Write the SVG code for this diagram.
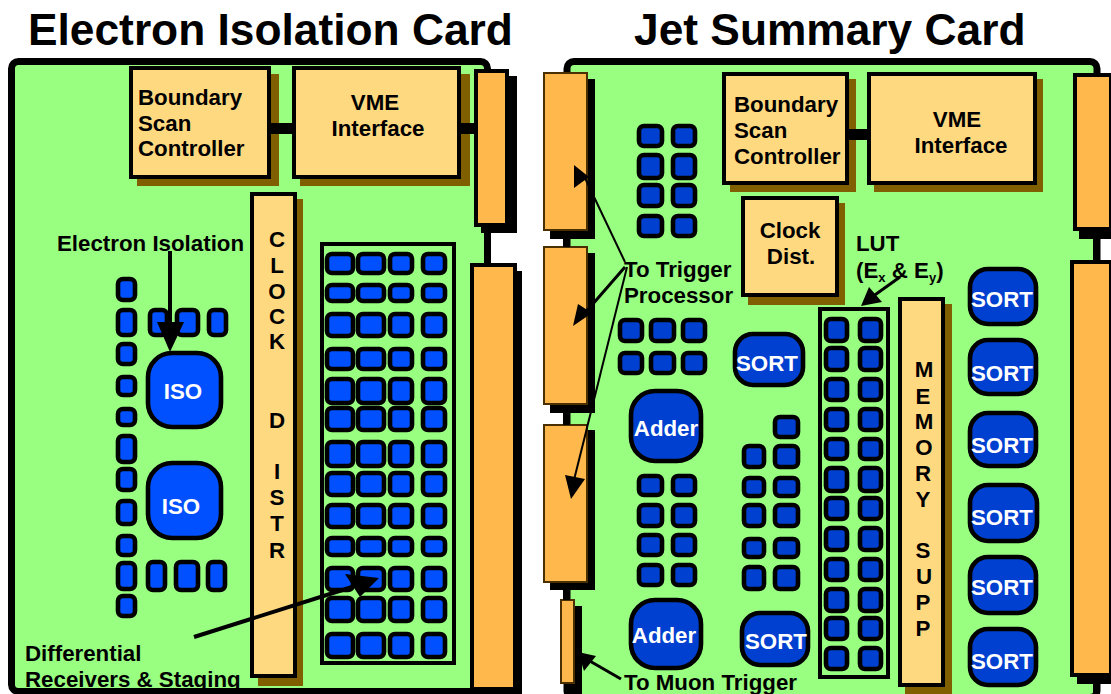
<svg xmlns="http://www.w3.org/2000/svg" width="1111" height="694" viewBox="0 0 1111 694">
<style>
text{font-family:"Liberation Sans",Arial,sans-serif;font-weight:700;font-size:22.3px;fill:#000}
.title{font-size:44.3px}
.w{fill:#fff}
.m{text-anchor:middle}
.card{fill:#99FF80;stroke:#000;stroke-width:7}
.box{fill:#FFD97F;stroke:#000;stroke-width:4}
.sh{fill:#7F5F00}
.bk{fill:#000}
.or{fill:#FFB84C;stroke:#000;stroke-width:4}
.ort{fill:#FFB84C;stroke:#4A3000;stroke-width:2}
.frame{fill:none;stroke:#000;stroke-width:4}
.c1 rect{fill:#0050FF;stroke:#000;stroke-width:4.6;rx:5px}
.c2 rect{fill:#0040D0;stroke:#000;stroke-width:4.6;rx:5px}
.c1 rect.big,.c2 rect.big{rx:24px}
.c2 rect.mid{rx:18px}
.bar{fill:#000}
.l4{stroke:#000;stroke-width:4;fill:none}
.l2{stroke:#000;stroke-width:2;fill:none}
</style>
<rect width="1111" height="694" fill="#fff"/>
<text class="title" x="28" y="45">Electron Isolation Card</text>
<text class="title" x="634" y="45">Jet Summary Card</text>

<g id="electron-card">
<rect class="card" x="11.5" y="61.5" width="476" height="630" rx="7"/>
</g>
<g id="e-boundary">
<rect class="sh" x="137" y="74" width="142" height="112"/>
<rect class="box" x="131" y="68" width="138" height="109"/>
<text x="138" y="105">Boundary</text><text x="138" y="131">Scan</text><text x="138" y="156">Controller</text>
</g>
<g id="e-vme">
<rect class="sh" x="300" y="74" width="170" height="112"/>
<rect class="box" x="294" y="68" width="165" height="109"/>
<text class="m" x="375" y="110">VME</text><text class="m" x="378" y="136">Interface</text>
</g>
<g id="e-conn-top">
<rect class="bk" x="481" y="76" width="36" height="157"/>
<rect class="or" x="476" y="71" width="31" height="154"/>
</g>
<g id="e-conn-bottom">
<rect class="bk" x="478" y="271" width="44" height="423"/>
<rect class="or" x="472" y="265" width="43" height="424"/>
</g>
<g id="e-clock">
<rect class="sh" x="258" y="199" width="45" height="487"/>
<rect class="box" x="252" y="194" width="43" height="482"/>
<g class="letters">
<text class="m" x="277" y="247">C</text><text class="m" x="277" y="273">L</text><text class="m" x="277" y="299">O</text><text class="m" x="277" y="324">C</text><text class="m" x="277" y="349">K</text>
<text class="m" x="277" y="428">D</text><text class="m" x="277" y="479">I</text><text class="m" x="277" y="505">S</text><text class="m" x="277" y="531">T</text><text class="m" x="277" y="558">R</text>
</g>
</g>
<rect class="frame" x="322" y="244" width="132" height="419"/>
<g id="e-grid" class="c1">
<rect x="327" y="254" width="26" height="19"/><rect x="358" y="254" width="26" height="19"/><rect x="390" y="254" width="22" height="19"/><rect x="423" y="254" width="22" height="19"/>
<rect x="327" y="285" width="26" height="16"/><rect x="358" y="285" width="26" height="16"/><rect x="390" y="285" width="22" height="16"/><rect x="423" y="285" width="22" height="16"/>
<rect x="327" y="314" width="26" height="22"/><rect x="358" y="314" width="26" height="22"/><rect x="390" y="314" width="22" height="22"/><rect x="423" y="314" width="22" height="22"/>
<rect x="327" y="349" width="26" height="20"/><rect x="358" y="349" width="26" height="20"/><rect x="390" y="349" width="22" height="20"/><rect x="423" y="349" width="22" height="20"/>
<rect x="327" y="379" width="26" height="24"/><rect x="358" y="379" width="26" height="24"/><rect x="390" y="379" width="22" height="24"/><rect x="423" y="379" width="22" height="24"/>
<rect x="327" y="408" width="26" height="22"/><rect x="358" y="408" width="26" height="22"/><rect x="390" y="408" width="22" height="22"/><rect x="423" y="408" width="22" height="22"/>
<rect x="327" y="442" width="26" height="24"/><rect x="358" y="442" width="26" height="24"/><rect x="390" y="442" width="22" height="24"/><rect x="423" y="442" width="22" height="24"/>
<rect x="327" y="473" width="26" height="22"/><rect x="358" y="473" width="26" height="22"/><rect x="390" y="473" width="22" height="22"/><rect x="423" y="473" width="22" height="22"/>
<rect x="327" y="505" width="26" height="22"/><rect x="358" y="505" width="26" height="22"/><rect x="390" y="505" width="22" height="22"/><rect x="423" y="505" width="22" height="22"/>
<rect x="327" y="538" width="26" height="17"/><rect x="358" y="538" width="26" height="17"/><rect x="390" y="538" width="22" height="17"/><rect x="423" y="538" width="22" height="17"/>
<rect x="327" y="568" width="26" height="22"/><rect x="358" y="568" width="26" height="22"/><rect x="390" y="568" width="22" height="22"/><rect x="423" y="568" width="22" height="22"/>
<rect x="327" y="598" width="26" height="23"/><rect x="358" y="598" width="26" height="23"/><rect x="390" y="598" width="22" height="23"/><rect x="423" y="598" width="22" height="23"/>
<rect x="327" y="634" width="26" height="23"/><rect x="358" y="634" width="26" height="23"/><rect x="390" y="634" width="22" height="23"/><rect x="423" y="634" width="22" height="23"/>
</g>
<g id="e-chips" class="c1">
<rect x="118" y="279" width="17" height="21"/><rect x="118" y="310" width="17" height="25"/><rect x="118" y="344" width="17" height="20"/><rect x="118" y="377" width="17" height="18"/><rect x="118" y="409" width="17" height="16"/><rect x="118" y="436" width="17" height="26"/><rect x="118" y="469" width="17" height="21"/><rect x="118" y="501" width="17" height="23"/><rect x="118" y="536" width="17" height="19"/><rect x="118" y="563" width="17" height="26"/><rect x="118" y="596" width="17" height="20"/>
<rect x="150" y="310" width="17" height="25"/><rect x="177" y="310" width="21" height="25"/><rect x="209" y="310" width="17" height="25"/>
<rect x="148" y="562" width="17" height="28"/><rect x="176" y="562" width="22" height="28"/><rect x="208" y="562" width="17" height="28"/>
</g>
<g id="e-iso1" class="c1"><rect class="big" x="148" y="353" width="73" height="74"/><text class="w m" x="183" y="399">ISO</text></g>
<g id="e-iso2" class="c1"><rect class="big" x="148" y="463" width="73" height="75"/><text class="w m" x="181" y="514">ISO</text></g>
<text x="57" y="251">Electron Isolation</text>
<text x="25" y="661">Differential</text>
<text x="25" y="687">Receivers &amp; Staging</text>

<g id="jet-card">
<rect class="card" x="567" y="61.5" width="530" height="636" rx="7"/>
</g>
<g id="j-boundary">
<rect class="sh" x="730" y="79" width="126" height="113"/>
<rect class="box" x="724" y="74" width="123" height="109"/>
<text x="734" y="112">Boundary</text><text x="734" y="138">Scan</text><text x="734" y="164">Controller</text>
</g>
<g id="j-vme">
<rect class="sh" x="874" y="79" width="169" height="113"/>
<rect class="box" x="869" y="74" width="166" height="109"/>
<text class="m" x="957" y="127">VME</text><text class="m" x="961" y="153">Interface</text>
</g>
<g id="j-clock">
<rect class="sh" x="748" y="203" width="97" height="102"/>
<rect class="box" x="743" y="198" width="94" height="97"/>
<text class="m" x="790" y="238">Clock</text><text class="m" x="791" y="264">Dist.</text>
</g>
<g id="j-left-conn-1"><rect class="bk" x="550" y="79" width="45" height="160"/><rect class="ort" x="544" y="73" width="43" height="157"/></g>
<g id="j-left-conn-2"><rect class="bk" x="550" y="253" width="45" height="160"/><rect class="ort" x="544" y="247" width="43" height="157"/></g>
<g id="j-left-conn-3"><rect class="bk" x="550" y="430" width="45" height="160"/><rect class="ort" x="544" y="425" width="43" height="157"/></g>
<g id="j-left-conn-4"><rect class="bk" x="565" y="606" width="17" height="88"/><rect class="ort" x="561" y="600" width="13" height="83"/></g>
<g id="j-right-conn-1"><rect class="bk" x="1079" y="80" width="32" height="159"/><rect class="or" x="1075" y="75" width="36" height="154"/></g>
<g id="j-right-conn-2"><rect class="bk" x="1077" y="268" width="34" height="416"/><rect class="or" x="1072" y="262" width="39" height="413"/></g>
<g id="j-chips-a" class="c2">
<rect x="639" y="126" width="23" height="20"/><rect x="673" y="126" width="22" height="20"/><rect x="639" y="155" width="23" height="23"/><rect x="673" y="155" width="22" height="23"/><rect x="639" y="185" width="23" height="21"/><rect x="673" y="185" width="22" height="21"/><rect x="639" y="216" width="23" height="20"/><rect x="673" y="216" width="22" height="20"/>
</g>
<g id="j-chips-b" class="c2">
<rect x="620" y="320" width="22" height="21"/><rect x="651" y="320" width="23" height="21"/><rect x="683" y="320" width="22" height="21"/><rect x="620" y="353" width="22" height="20"/><rect x="651" y="353" width="23" height="20"/><rect x="683" y="353" width="22" height="20"/>
</g>
<g id="j-chips-c" class="c2">
<rect x="639" y="476" width="23" height="19"/><rect x="673" y="476" width="22" height="19"/><rect x="639" y="505" width="23" height="21"/><rect x="673" y="505" width="22" height="21"/><rect x="639" y="535" width="23" height="20"/><rect x="673" y="535" width="22" height="20"/><rect x="639" y="565" width="23" height="20"/><rect x="673" y="565" width="22" height="20"/>
</g>
<g id="j-chips-d" class="c2">
<rect x="775" y="417" width="23" height="20"/><rect x="744" y="446" width="20" height="21"/><rect x="775" y="446" width="23" height="21"/><rect x="744" y="478" width="20" height="18"/><rect x="775" y="478" width="23" height="18"/><rect x="744" y="505" width="20" height="21"/><rect x="775" y="505" width="23" height="21"/><rect x="744" y="539" width="20" height="18"/><rect x="775" y="539" width="23" height="18"/><rect x="744" y="567" width="20" height="22"/><rect x="775" y="567" width="23" height="22"/>
</g>
<g id="j-adder1" class="c2"><rect class="big" x="631" y="391" width="70" height="70"/><text class="w m" x="666" y="436">Adder</text></g>
<g id="j-adder2" class="c2"><rect class="big" x="631" y="600" width="70" height="68"/><text class="w m" x="664" y="643">Adder</text></g>
<g id="j-sort1" class="c2"><rect class="mid" x="735" y="334" width="68" height="51"/><text class="w" x="736" y="371">SORT</text></g>
<g id="j-sort2" class="c2"><rect class="mid" x="742" y="613" width="66" height="52"/><text class="w" x="745" y="649">SORT</text></g>
<rect class="frame" x="820" y="309" width="68" height="368"/>
<g id="j-lut" class="c2">
<rect x="826" y="319" width="21" height="22"/><rect x="860" y="319" width="21" height="22"/>
<rect x="826" y="348" width="21" height="22"/><rect x="860" y="348" width="21" height="22"/>
<rect x="826" y="379" width="21" height="21"/><rect x="860" y="379" width="21" height="21"/>
<rect x="826" y="409" width="21" height="21"/><rect x="860" y="409" width="21" height="21"/>
<rect x="826" y="439" width="21" height="20"/><rect x="860" y="439" width="21" height="20"/>
<rect x="826" y="468" width="21" height="23"/><rect x="860" y="468" width="21" height="23"/>
<rect x="826" y="498" width="21" height="21"/><rect x="860" y="498" width="21" height="21"/>
<rect x="826" y="528" width="21" height="22"/><rect x="860" y="528" width="21" height="22"/>
<rect x="826" y="559" width="21" height="21"/><rect x="860" y="559" width="21" height="21"/>
<rect x="826" y="589" width="21" height="22"/><rect x="860" y="589" width="21" height="22"/>
<rect x="826" y="618" width="21" height="21"/><rect x="860" y="618" width="21" height="21"/>
<rect x="826" y="648" width="21" height="21"/><rect x="860" y="648" width="21" height="21"/>
</g>
<g id="j-memory">
<rect class="sh" x="905" y="304" width="47" height="390"/>
<rect class="box" x="900" y="299" width="43" height="386"/>
<text class="m" x="924" y="377">M</text><text class="m" x="923" y="404">E</text><text class="m" x="924" y="429">M</text><text class="m" x="924" y="455">O</text><text class="m" x="923" y="481">R</text><text class="m" x="923" y="507">Y</text>
<text class="m" x="923" y="558">S</text><text class="m" x="924" y="584">U</text><text class="m" x="923" y="610">P</text><text class="m" x="923" y="636">P</text>
</g>
<g id="j-sorts" class="c2">
<rect class="mid" x="970" y="269" width="66" height="55"/><text class="w" x="971" y="307">SORT</text>
<rect class="mid" x="970" y="340" width="66" height="54"/><text class="w" x="971" y="381">SORT</text>
<rect class="mid" x="970" y="413" width="66" height="53"/><text class="w" x="971" y="453">SORT</text>
<rect class="mid" x="970" y="485" width="67" height="56"/><text class="w" x="971" y="525">SORT</text>
<rect class="mid" x="970" y="557" width="66" height="56"/><text class="w" x="971" y="595">SORT</text>
<rect class="mid" x="970" y="629" width="66" height="56"/><text class="w" x="971" y="669">SORT</text>
</g>
<text x="624" y="277">To Trigger</text>
<text x="624" y="303">Processor</text>
<text x="856" y="251">LUT</text>
<text x="856" y="278">(E<tspan font-size="13" dy="4">x</tspan><tspan dy="-4"> &amp; E</tspan><tspan font-size="13" dy="4">y</tspan><tspan dy="-4">)</tspan></text>
<text x="624" y="690">To Muon Trigger</text>

<g id="connectors">
<rect class="bar" x="270" y="123" width="23" height="11"/>
<rect class="bar" x="459" y="123" width="16" height="11"/>
<rect class="bar" x="484" y="233" width="7" height="32"/>
<rect class="bar" x="847" y="129" width="21" height="11"/>
<rect class="bar" x="1093" y="239" width="7" height="23"/>
<rect class="bar" x="1093" y="684" width="7" height="10"/>
<rect class="bar" x="563" y="239" width="7" height="8"/>
<rect class="bar" x="563" y="413" width="7" height="12"/>
<rect class="bar" x="563" y="590" width="7" height="10"/>
<path class="l4" d="M170 251V330"/>
<polygon class="bk" points="157,322 184,322 170,352"/>
<path class="l4" d="M194 637L352 587"/>
<polygon class="bk" points="379,578 345,574 360,597"/>
<path class="l2" d="M625 262L585 178"/>
<polygon class="bk" points="589,177 574,165 574,188"/>
<path class="l4" d="M625 267L585 313" style="stroke-width:3"/>
<polygon class="bk" points="592,313 578,304 573,326"/>
<path class="l2" d="M627 267L574 480"/>
<polygon class="bk" points="571,499 565,475 585,479"/>
<path class="l2" d="M621 679L588 660" style="stroke-width:3"/>
<polygon class="bk" points="578,652 596,656 584,671"/>
<path class="l2" d="M900 277L872 297" style="stroke-width:3"/>
<polygon class="bk" points="861,306 869,287 882,302"/>
</g>
</svg>
